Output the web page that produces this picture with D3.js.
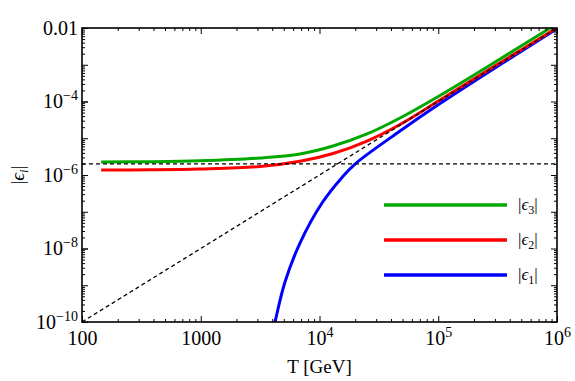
<!DOCTYPE html>
<html>
<head>
<meta charset="utf-8">
<script src="https://cdn.jsdelivr.net/npm/d3@7"></script>
<style>
  body { margin: 0; background: #fff; }
  svg text { font-family: "Liberation Serif", "Times New Roman", serif; fill: #000; }
</style>
</head>
<body>
<script>
// ---- data ----
const xTicks = [100, 1000, 1e4, 1e5, 1e6];
const xTickLabels = [["100", ""], ["1000", ""], ["10", "4"], ["10", "5"], ["10", "6"]];
const yTicks = [1e-10, 1e-8, 1e-6, 1e-4, 1e-2];
const yTickLabels = [["10", "\u221210"], ["10", "\u22128"], ["10", "\u22126"], ["10", "\u22124"], ["0.01", ""]];

// |eps_3| (green)
const greenT = [145, 374, 986, 3155, 6850, 12990, 25120, 47640, 103440, 331130, 890000, 1e6];
const greenE = [2.26e-6, 2.30e-6, 2.44e-6, 2.90e-6, 3.73e-6, 6.15e-6, 1.31e-5, 3.56e-5, 1.46e-4, 1.43e-3, 1.03e-2, 1.3e-2];
// |eps_2| (red)
const redT = [145, 374, 986, 3155, 6850, 12990, 25120, 47640, 103440, 331130, 1e6];
const redE = [1.37e-6, 1.39e-6, 1.46e-6, 1.70e-6, 2.36e-6, 3.85e-6, 8.4e-6, 2.37e-5, 1.10e-4, 1.13e-3, 1.01e-2];
// |eps_1| (blue)
const blueT = [3981, 4220, 5120, 6850, 10500, 15470, 19910, 47630, 103440, 331130, 1e6];
const blueE = [4.4e-11, 1e-10, 1.22e-9, 1.41e-8, 1.73e-7, 8.6e-7, 1.99e-6, 1.57e-5, 8.8e-5, 1.0e-3, 9.6e-3];

// dashed reference lines
const flatT = [100, 1e6];
const flatE = [2.0e-6, 2.0e-6];
const diagT = [100, 1e6];
const diagE = [1e-10, 1e-2];

const legendNames = ["3", "2", "1"];
const legendColors = ["#00a800", "#ff0000", "#0000ff"];

// ---- layout ----
const W = 575, H = 381;
const margin = { top: 28, right: 18, bottom: 59, left: 82 };
const width = W - margin.left - margin.right;
const height = H - margin.top - margin.bottom;
const serif = "Liberation Serif, Times New Roman, serif";

const svg = d3.select("body").append("svg")
  .attr("width", W)
  .attr("height", H);

const g = svg.append("g")
  .attr("transform", "translate(" + margin.left + "," + margin.top + ")");

const x = d3.scaleLog().domain([100, 1e6]).range([0, width]);
const y = d3.scaleLog().domain([1e-10, 1e-2]).range([height, 0]);

// minor ticks
function minors(lo, hi) {
  const out = [];
  for (let e = lo; e < hi; e++) {
    for (let k = 2; k <= 9; k++) out.push(k * Math.pow(10, e));
  }
  return out;
}
const xMinor = minors(2, 6);
const yMinor = minors(-10, -2);
const yMajor = d3.range(-10, -1).map(e => Math.pow(10, e));

g.append("defs").append("clipPath").attr("id", "clip")
  .append("rect").attr("width", width).attr("height", height);

const plot = g.append("g").attr("clip-path", "url(#clip)");

const line = d3.line()
  .x(d => x(d[0]))
  .y(d => y(d[1]))
  .curve(d3.curveCatmullRom.alpha(0.5));

const series = [
  { T: blueT, E: blueE, color: "#0000ff" },
  { T: redT, E: redE, color: "#ff0000" },
  { T: greenT, E: greenE, color: "#00a800" }
];

series.forEach(s => {
  plot.append("path")
    .datum(s.T.map((t, i) => [t, s.E[i]]))
    .attr("d", line)
    .attr("fill", "none")
    .attr("stroke", s.color)
    .attr("stroke-width", 3);
});

[[flatT, flatE], [diagT, diagE]].forEach(p => {
  plot.append("path")
    .datum(p[0].map((t, i) => [t, p[1][i]]))
    .attr("d", d3.line().x(d => x(d[0])).y(d => y(d[1])))
    .attr("fill", "none")
    .attr("stroke", "#000")
    .attr("stroke-width", 1.3)
    .attr("stroke-dasharray", "4,3");
});

// axes: ticks point inward
function styleAxis(sel) {
  sel.select(".domain").remove();
  sel.attr("font-family", serif);
  sel.selectAll(".tick line").attr("stroke", "#000").attr("stroke-width", 1);
}

g.append("g").attr("transform", "translate(0," + height + ")")
  .call(d3.axisBottom(x).tickValues(xMinor).tickSize(-3).tickFormat(""))
  .call(styleAxis);
g.append("g")
  .call(d3.axisTop(x).tickValues(xMinor).tickSize(-3).tickFormat(""))
  .call(styleAxis);
g.append("g")
  .call(d3.axisTop(x).tickValues(xTicks).tickSize(-6).tickFormat(""))
  .call(styleAxis);
g.append("g").call(d3.axisLeft(y).tickValues(yMinor).tickSize(-3).tickFormat("")).call(styleAxis);
g.append("g").attr("transform", "translate(" + width + ",0)")
  .call(d3.axisRight(y).tickValues(yMinor).tickSize(-3).tickFormat("")).call(styleAxis);
g.append("g").call(d3.axisLeft(y).tickValues(yMajor).tickSize(-6).tickFormat("")).call(styleAxis);
g.append("g").attr("transform", "translate(" + width + ",0)")
  .call(d3.axisRight(y).tickValues(yMajor).tickSize(-6).tickFormat("")).call(styleAxis);

const xAxis = g.append("g").attr("transform", "translate(0," + height + ")")
  .call(d3.axisBottom(x).tickValues(xTicks).tickSize(-6).tickPadding(8).tickFormat(""))
  .call(styleAxis);
xAxis.selectAll(".tick text").each(function (d, i) {
  const t = d3.select(this).attr("font-size", 20).attr("dy", "0.75em")
    .attr("font-family", serif);
  t.append("tspan").text(xTickLabels[i][0]);
  if (xTickLabels[i][1]) {
    t.append("tspan").attr("font-size", 14).attr("dy", "-0.6em").text(xTickLabels[i][1]);
  }
});

const yAxis = g.append("g")
  .call(d3.axisLeft(y).tickValues(yTicks).tickSize(-6).tickPadding(4).tickFormat(""))
  .call(styleAxis);
yAxis.selectAll(".tick text").each(function (d, i) {
  const t = d3.select(this).attr("font-size", 20).attr("dy", "0.32em")
    .attr("font-family", serif);
  t.append("tspan").text(yTickLabels[i][0]);
  if (yTickLabels[i][1]) {
    t.append("tspan").attr("font-size", 14).attr("dy", "-0.6em").text(yTickLabels[i][1]);
  }
});

// frame
g.append("rect")
  .attr("width", width).attr("height", height)
  .attr("fill", "none").attr("stroke", "#000").attr("stroke-width", 1.6);

// axis titles
svg.append("text")
  .attr("x", margin.left + width / 2).attr("y", 373)
  .attr("text-anchor", "middle").attr("font-size", 19)
  .text("T [GeV]");

const yl = svg.append("text")
  .attr("transform", "translate(24," + (margin.top + height / 2) + ") rotate(-90)")
  .attr("text-anchor", "middle").attr("font-size", 19);
yl.append("tspan").text("|");
yl.append("tspan").attr("font-style", "italic").text("\u03f5");
yl.append("tspan").attr("font-style", "italic").attr("font-size", 13).attr("dy", 4).text("i");
yl.append("tspan").attr("dy", -4).text("|");

// legend
const legend = g.append("g").attr("transform", "translate(302,177)");
legendNames.forEach((n, i) => {
  const row = legend.append("g").attr("transform", "translate(0," + i * 35 + ")");
  row.append("line").attr("x1", 0).attr("x2", 123)
    .attr("stroke", legendColors[i]).attr("stroke-width", 3.5);
  const t = row.append("text").attr("x", 134).attr("dy", "0.32em").attr("font-size", 17);
  t.append("tspan").text("|");
  t.append("tspan").attr("font-style", "italic").text("\u03f5");
  t.append("tspan").attr("font-size", 12).attr("dy", 4).text(n);
  t.append("tspan").attr("dy", -4).text("|");
});
</script>
</body>
</html>
